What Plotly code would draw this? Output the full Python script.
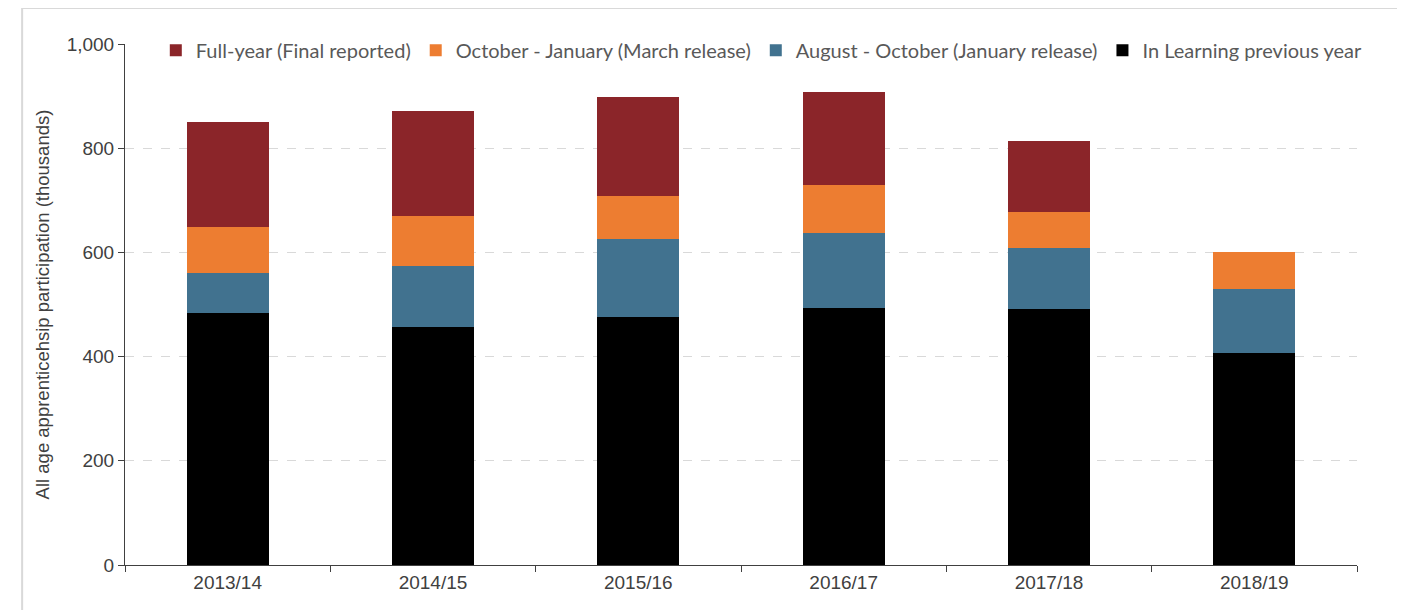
import plotly.graph_objects as go

years = ["2013/14", "2014/15", "2015/16", "2016/17", "2017/18", "2018/19"]
in_learning = [483, 457, 476, 493, 492, 406]
aug_oct = [77, 116, 150, 144, 116, 124]
oct_jan = [88, 97, 82, 93, 69, 71]
full_year = [202, 201, 190, 177, 137, 0]

names = ["In Learning previous year", "August - October (January release)",
         "October - January (March release)", "Full-year (Final reported)"]
colors = ["#000000", "#41728F", "#ED7D31", "#8B2529"]
series = [in_learning, aug_oct, oct_jan, full_year]

fig = go.Figure()
for n, c, v in zip(names, colors, series):
    fig.add_trace(go.Bar(x=years, y=v, name=n, marker=dict(color=c, line=dict(width=0))))

fig.update_layout(
    barmode="stack",
    bargap=0.6,
    width=1393, height=602,
    margin=dict(l=117, r=44, t=36, b=45),
    plot_bgcolor="white", paper_bgcolor="white",
    font=dict(family="Liberation Sans, Arial", size=19, color="#404040"),
    legend=dict(orientation="h", traceorder="reversed", x=0.025, y=0.988, xanchor="left", yanchor="middle",
                bgcolor="white", font=dict(family="Lato, sans-serif", size=20, color="#595959"),
                itemwidth=30, tracegroupgap=0),
    showlegend=True,
)
fig.update_yaxes(range=[0, 1000], tickvals=[0, 200, 400, 600, 800, 1000], tickformat=",",
                 showgrid=True, gridcolor="#D9D9D9", griddash="dash", gridwidth=1,
                 showline=True, linecolor="#404040", linewidth=1, ticks="outside", ticklen=6,
                 tickcolor="#404040", zeroline=False,
                 tickfont=dict(size=19, color="#404040"),
                 title=dict(text="All age apprenticehsip participation (thousands)", standoff=12,
                            font=dict(size=18.5, color="#404040")))
fig.update_xaxes(showline=True, linecolor="#404040", linewidth=1, ticks="outside", ticklen=6,
                 tickcolor="#404040", tickson="boundaries", showgrid=False,
                 tickfont=dict(size=19, color="#404040"))
fig.add_shape(type="rect", xref="paper", yref="paper", x0=-0.0835, x1=1.0352, y0=-0.2, y1=1.069,
              line=dict(color="#D9D9D9", width=2), layer="below")
fig.write_html("out.html")
